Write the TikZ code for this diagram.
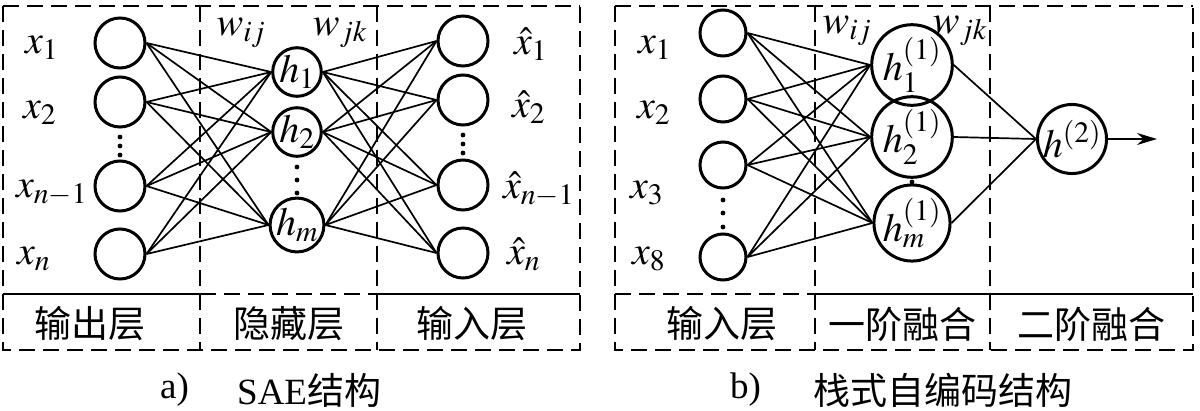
\documentclass[tikz,border=0pt]{standalone}
\usepackage{mathptmx}
\usepackage{fontspec}
\setmainfont{Liberation Serif}
\newfontfamily\cjk{Noto Sans CJK SC}
\usetikzlibrary{arrows.meta}
\tikzset{
  neuron/.style={circle, draw, line width=3pt, inner sep=0pt, minimum size=#1},
  frame/.style={line width=2.2pt, dash pattern=on 16pt off 8pt},
  link/.style={line width=1.7pt},
  lab/.style={inner sep=0pt, anchor=west},
  layer/.style={font=\cjk\fontsize{37}{40}\selectfont},
}
\begin{document}
\begin{tikzpicture}[x=1pt, y=-1pt, >={Stealth[length=20pt,width=12pt]},
    font=\fontsize{40}{44}\selectfont]
    \useasboundingbox (0,0) rectangle (1200,410);
    % a) SAE
    \foreach \i/\y in {1/43,2/102,3/186,4/254} \node[neuron=50pt] (ai\i) at (120,\y) {};
    \foreach \i/\y/\t in {1/72/h_1,2/132/h_2,3/225/h_m} \node[neuron=47pt] (ah\i) at (297,\y) {$\t$};
    \foreach \i/\y in {1/41,2/100,3/185,4/253} \node[neuron=50pt] (ao\i) at (463,\y) {};
    \foreach \i in {1,...,4} \foreach \j in {1,2,3} {
        \draw[link] (ai\i.east) -- (ah\j.west);
        \draw[link] (ah\j.east) -- (ao\i.west);
    }
    \foreach \y in {137,146,155} {\fill (120,\y) circle (2.4pt); \fill (463,\y-2) circle (2.4pt);}
    \foreach \y in {167,180,193} \fill (297,\y) circle (2.4pt);
    \node[lab] (ax1) at (25,48) {$x_1$};
    \node[lab] (ax2) at (23,113) {$x_2$};
    \node[lab] (ax3) at (16,193) {$x_{n-1}$};
    \node[lab] (ax4) at (17,259) {$x_n$};
    \node[lab] (ay1) at (514,44) {$\hat{x}_1$};
    \node[lab] (ay2) at (512,107) {$\hat{x}_2$};
    \node[lab] (ay3) at (503,189) {$\hat{x}_{n-1}$};
    \node[lab] (ay4) at (507,254) {$\hat{x}_n$};
    \node (awij) at (241,33) {$w_{ij}$};
    \node (awjk) at (340,33) {$w_{jk}$};
    \draw[frame] (3,6) -- (580,6);
    \draw[frame] (3,6) -- (3,350) -- (580,350) -- (580,6);
    \draw[frame] (200,6) -- (200,350);
    \draw[frame] (377,6) -- (377,350);
    \draw[line width=2.2pt] (3,294) -- (200,294) (377,294) -- (580,294);
    \draw[frame] (200,294) -- (377,294);
    \node[layer] (al1) at (90,324) {输出层};
    \node[layer] (al2) at (289,324) {隐藏层};
    \node[layer] (al3) at (472,324) {输入层};
    \node[lab, font=\fontsize{37}{40}\selectfont] (atag) at (160,390) {a)};
    \node[lab, font=\fontsize{37}{40}\selectfont] (acap) at (237,390) {SAE{\cjk 结构}};
    % b) stacked autoencoder
    \foreach \i/\y in {1/33,2/99,3/165,4/257} \node[neuron=46pt] (bi\i) at (723,\y) {};
    \foreach \i/\y/\t in {1/65/1,2/137/2,3/223/m} \node[neuron=61pt] (bh\i) at (912,\y) {$h^{(1)}_{\t}$};
    \node[neuron=66pt] (bo) at (1072,139) {$h^{(2)}$};
    \coordinate (bend) at (1157,139);
    \foreach \i in {1,...,4} \foreach \j in {1,2,3} \draw[link] (bi\i.east) -- (bh\j.west);
    \foreach \j in {1,2,3} \draw[link] (bh\j.east) -- (bo.west);
    \draw[link, ->] (bo) -- (bend);
    \foreach \y in {200,213,227} \fill (723,\y) circle (2.4pt);
    \fill (912,182) circle (2.4pt);
    \node[lab] (bx1) at (638,48) {$x_1$};
    \node[lab] (bx2) at (637,113) {$x_2$};
    \node[lab] (bx3) at (630,193) {$x_3$};
    \node[lab] (bx4) at (632,259) {$x_8$};
    \node (bwij) at (847,31) {$w_{ij}$};
    \node (bwjk) at (960,31) {$w_{jk}$};
    \draw[frame] (615,6) -- (1193,6);
    \draw[frame] (615,6) -- (615,350) -- (1193,350) -- (1193,6);
    \draw[frame] (815,6) -- (815,350);
    \draw[frame] (990,6) -- (990,350);
    \draw[frame] (615,294) -- (815,294);
    \draw[line width=2.2pt] (815,294) -- (1193,294);
    \node[layer] (bl1) at (722,324) {输入层};
    \node[layer] (bl2) at (902,324) {一阶融合};
    \node[layer] (bl3) at (1091,324) {二阶融合};
    \node[lab, font=\fontsize{37}{40}\selectfont] (btag) at (730,390) {b)};
    \node[lab, layer] (bcap) at (813,390) {栈式自编码结构};
\end{tikzpicture}
\end{document}
